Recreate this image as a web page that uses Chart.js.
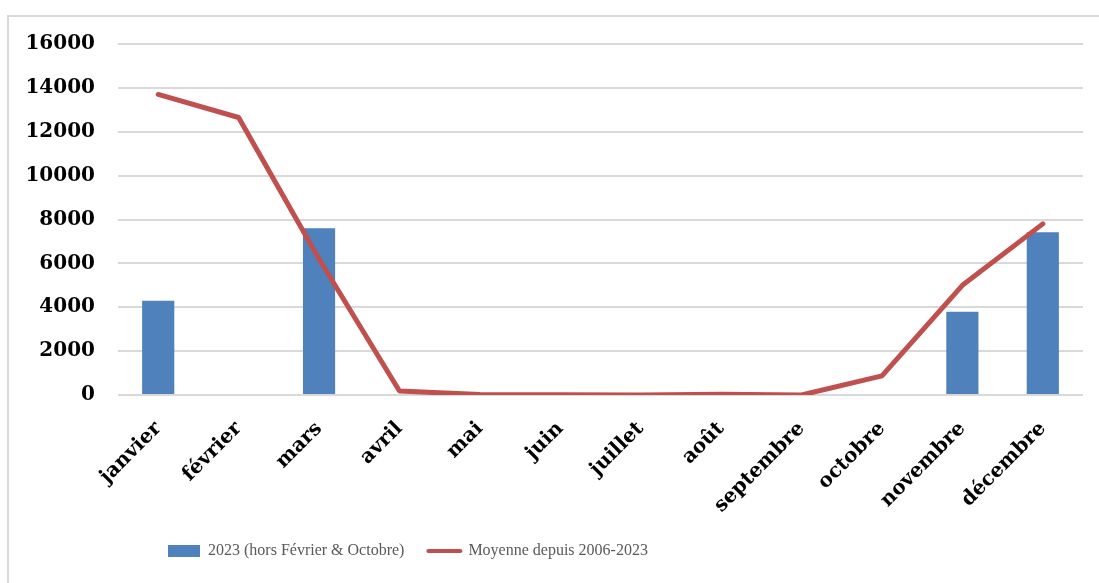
<!DOCTYPE html>
<html>
<head>
<meta charset="utf-8">
<script src="https://cdn.jsdelivr.net/npm/chart.js@4.4.1/dist/chart.umd.min.js"></script>
<style>
  html, body { margin: 0; padding: 0; background: #fff; overflow: hidden; }
  #frame { position: absolute; left: 7px; top: 15px; width: 1200px; height: 700px; border: 2px solid #d9d9d9; }
  #wrap { position: absolute; left: 0; top: 0; width: 1099px; height: 583px; }
</style>
</head>
<body>
<div id="frame"></div>
<div id="wrap"><canvas id="chart"></canvas></div>
<script>
var months = ['janvier', 'février', 'mars', 'avril', 'mai', 'juin', 'juillet', 'août', 'septembre', 'octobre', 'novembre', 'décembre'];
var values2023 = [4300, null, 7600, null, null, null, null, null, null, null, 3800, 7420];
var moyenne = [13700, 12650, 6200, 180, 20, 10, 0, 30, 0, 870, 5000, 7800];
var yTicks = [0, 2000, 4000, 6000, 8000, 10000, 12000, 14000, 16000];

var BLUE = '#4f81bd';
var RED = '#c0504d';
var tickFont = { family: '"DejaVu Serif", serif', size: 20, weight: 'bold' };

// Excel places the legend off-centre; move it so it starts at x = 168
var legendShift = {
    id: 'legendShift',
    afterLayout: function(chart){
        var lg = chart.legend;
        var w = lg.right - lg.left;
        lg.left = 168 - lg.options.labels.padding;
        lg.right = lg.left + w;
    }
};

window.onload = function(){
    var ctx = document.getElementById('chart').getContext('2d');
    window.chartInstance = new Chart(ctx, {
        type: 'bar',
        data: {
            labels: months,
            datasets: [{
                label: '2023 (hors Février & Octobre)',
                data: values2023,
                backgroundColor: BLUE,
                barPercentage: 0.4,
                categoryPercentage: 1,
                order: 1
            },{
                type: 'line',
                label: 'Moyenne depuis 2006-2023',
                data: moyenne,
                borderColor: RED,
                backgroundColor: RED,
                borderWidth: 5,
                borderCapStyle: 'round',
                borderJoinStyle: 'round',
                tension: 0,
                pointRadius: 0,
                fill: false,
                order: 0
            }]
        },
        options: {
            responsive: true,
            maintainAspectRatio: false,
            animation: false,
            layout: { padding: { left: 0, right: 16, top: 44, bottom: 14 } },
            scales: {
                x: {
                    grid: { display: false, drawTicks: false },
                    border: { display: false },
                    afterFit: function(scale){ scale.height = 124; },
                    ticks: {
                        font: tickFont,
                        color: '#000',
                        minRotation: 45,
                        maxRotation: 45,
                        padding: 22,
                        autoSkip: false
                    }
                },
                y: {
                    min: 0,
                    max: 16000,
                    afterBuildTicks: function(scale){
                        scale.ticks = yTicks.map(function(v){ return { value: v }; });
                    },
                    afterFit: function(scale){ scale.width = 118; },
                    grid: { color: '#d9d9d9', lineWidth: 2, drawTicks: false },
                    border: { display: false },
                    ticks: {
                        font: tickFont,
                        color: '#000',
                        padding: 23,
                        callback: function(v){ return String(v); }
                    }
                }
            },
            plugins: {
                tooltip: { enabled: false },
                legend: {
                    position: 'bottom',
                    align: 'start',
                    labels: {
                        font: { family: '"Liberation Serif", serif', size: 16 },
                        color: '#595959',
                        usePointStyle: true,
                        pointStyleWidth: 32,
                        boxHeight: 12,
                        padding: 24,
                        sort: function(a, b){ return a.datasetIndex - b.datasetIndex; },
                        generateLabels: function(chart){
                            var items = Chart.defaults.plugins.legend.labels.generateLabels(chart);
                            items.forEach(function(it){
                                if (it.datasetIndex === 1) {
                                    it.pointStyle = 'line';
                                    it.strokeStyle = RED;
                                    it.lineWidth = 4;
                                    it.lineCap = 'round';
                                } else {
                                    it.pointStyle = 'rect';
                                    it.fillStyle = BLUE;
                                    it.lineWidth = 0;
                                }
                            });
                            return items;
                        }
                    }
                }
            }
        },
        plugins: [legendShift]
    });
};
</script>
</body>
</html>
